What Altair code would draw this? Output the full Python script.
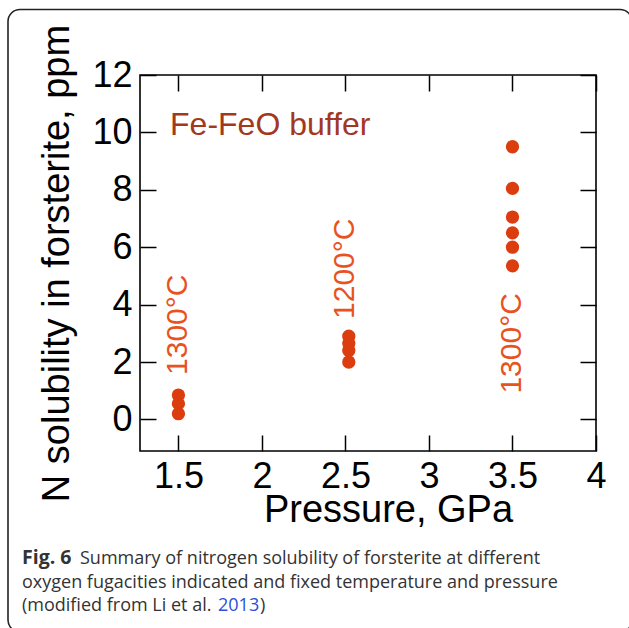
import altair as alt
import pandas as pd

# Measured nitrogen solubility (ppm) at each run pressure (GPa)
p15_pressure = [1.5, 1.5, 1.5]
p15_nitrogen = [0.85, 0.55, 0.2]
p25_pressure = [2.52, 2.52, 2.52, 2.52]
p25_nitrogen = [2.9, 2.65, 2.4, 2.0]
p35_pressure = [3.5, 3.5, 3.5, 3.5, 3.5, 3.5]
p35_nitrogen = [9.5, 8.05, 7.05, 6.5, 6.0, 5.35]

# Temperature annotations per pressure group
temp_text = ["1300°C", "1200°C", "1300°C"]
temp_x = [1.5, 2.5, 3.5]
temp_y = [1.55, 3.5, 0.9]

buffer_text = ["Fe-FeO buffer"]
buffer_x = [1.45]
buffer_y = [9.9]

x_ticks = [1.5, 2, 2.5, 3, 3.5, 4]
y_ticks = [0, 2, 4, 6, 8, 10, 12]

caption_bold = ["Fig. 6"]
caption_line1 = ["Summary of nitrogen solubility of forsterite at different"]
caption_line2 = ["oxygen fugacities indicated and fixed temperature and pressure"]
caption_line3a = ["(modified from Li et al. "]
caption_link = ["2013"]
caption_line3b = [")"]

FONT = "Liberation Sans"
CAP_FONT = "Open Sans"
W, H = 456, 376

points = pd.DataFrame({
    "pressure": p15_pressure + p25_pressure + p35_pressure,
    "nitrogen": p15_nitrogen + p25_nitrogen + p35_nitrogen,
})
temps = pd.DataFrame({"label": temp_text, "pressure": temp_x, "nitrogen": temp_y})
buffer = pd.DataFrame({"label": buffer_text, "pressure": buffer_x, "nitrogen": buffer_y})

xs = alt.Scale(domain=[1.27, 4.0], nice=False, zero=False)
ys = alt.Scale(domain=[-1.1, 12], nice=False, zero=False)

# Inward-pointing ticks: axis line pulled inside the frame by the tick length
tick_style = dict(offset=-16, tickSize=16, domain=False, grid=False,
                  tickColor="black", tickWidth=1.5,
                  labelOverlap=False, labelFlush=False, labelBound=False)

x_bottom = alt.Axis(values=x_ticks, format="~g", orient="bottom",
                    labelFont=FONT, labelFontSize=36, labelColor="black",
                    labelPadding=8, title="Pressure, GPa", titleFont=FONT,
                    titleFontSize=38, titleFontWeight="normal", titleColor="black",
                    titlePadding=-3, titleX=248, **tick_style)
y_left = alt.Axis(values=y_ticks, format="~g", orient="left",
                  labelFont=FONT, labelFontSize=36, labelColor="black",
                  labelPadding=8, title="N solubility in forsterite, ppm",
                  titleFont=FONT, titleFontSize=38, titleFontWeight="normal",
                  titleColor="black", titlePadding=15, **tick_style)
x_top = alt.Axis(values=x_ticks, orient="top", labels=False, title=None, **tick_style)
y_right = alt.Axis(values=y_ticks, orient="right", labels=False, title=None, **tick_style)

dots = alt.Chart(points).mark_circle(size=177, color="#DB3D0F", opacity=1).encode(
    x=alt.X("pressure:Q", scale=xs, axis=x_bottom),
    y=alt.Y("nitrogen:Q", scale=ys, axis=y_left),
)

temp_labels = alt.Chart(temps).mark_text(
    angle=270, align="left", baseline="middle", font=FONT, fontSize=30,
    color="#E8521E",
).encode(
    x=alt.X("pressure:Q", scale=xs, axis=x_top),
    y=alt.Y("nitrogen:Q", scale=ys, axis=y_right),
    text="label:N",
)

buffer_label = alt.Chart(buffer).mark_text(
    align="left", baseline="alphabetic", font=FONT, fontSize=32, color="#A3381E",
).encode(
    x=alt.X("pressure:Q", scale=xs, axis=None),
    y=alt.Y("nitrogen:Q", scale=ys, axis=None),
    text="label:N",
)

# Figure frame with rounded corners, and the caption beneath the plot
frame = alt.Chart(pd.DataFrame({"k": [0]})).mark_rect(
    fillOpacity=0, stroke="#222222", strokeWidth=1.6, cornerRadius=12,
).encode(x=alt.value(-132), x2=alt.value(492), y=alt.value(-65.5), y2=alt.value(557))


def caption(lines, x, y, color="#333333", weight="normal", size=18):
    return alt.Chart(pd.DataFrame({"t": lines})).mark_text(
        align="left", baseline="alphabetic", font=CAP_FONT, fontSize=size,
        color=color, fontWeight=weight,
    ).encode(x=alt.value(x), y=alt.value(y), text="t:N")


cap = [
    caption(caption_bold, 22 - 140, 564 - 75, weight="bold", size=19.5),
    caption(caption_line1, 80 - 140, 564 - 75),
    caption(caption_line2, 22 - 140, 588 - 75),
    caption(caption_line3a, 22 - 140, 611 - 75),
    caption(caption_link, 218 - 140, 611 - 75, color="#2B4FD6"),
    caption(caption_line3b, 260 - 140, 611 - 75),
]

chart = alt.layer(dots, temp_labels, buffer_label, frame, *cap).resolve_axis(
    x="independent", y="independent"
).properties(
    width=W, height=H,
    autosize=alt.AutoSizeParams(type="none"),
    padding={"left": 140, "top": 75, "right": 33, "bottom": 177},
    background="white",
).configure_view(stroke="black", strokeWidth=1.6)

chart.save("out.html", embed_options={"renderer": "svg", "actions": False})
